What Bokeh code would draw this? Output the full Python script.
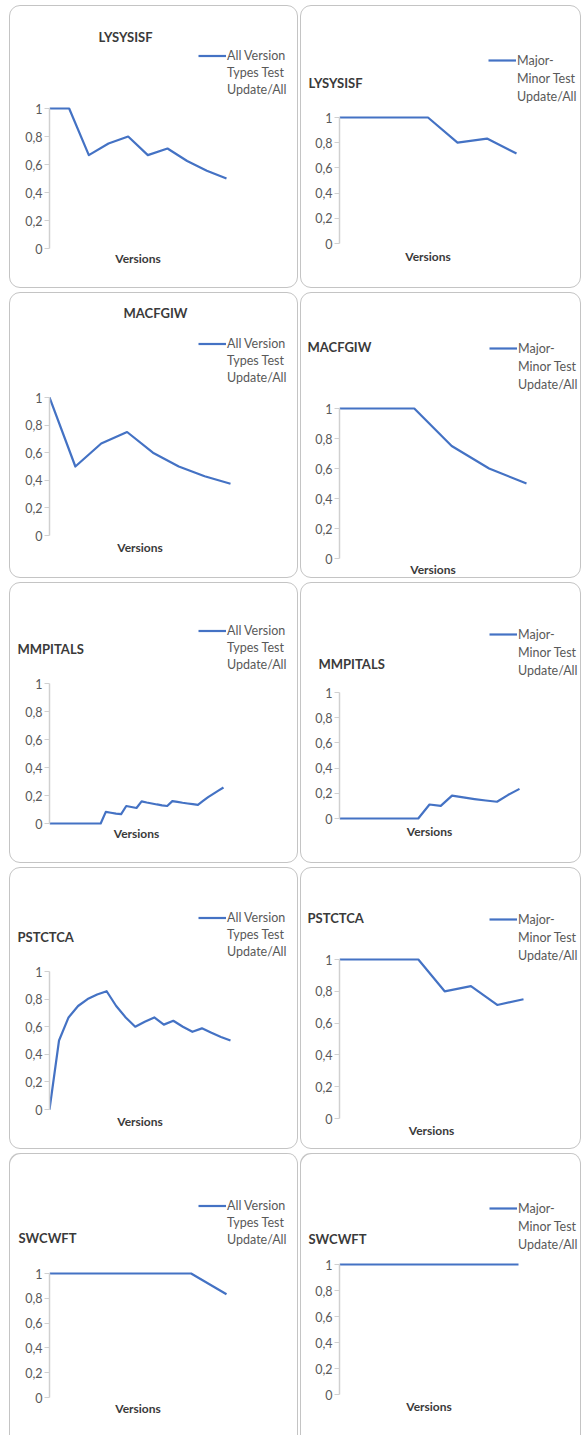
from bokeh.plotting import figure
from bokeh.models import Range1d, FixedTicker, Label, Legend, LegendItem
from bokeh.layouts import column, row
from bokeh.embed import file_html
from bokeh.resources import INLINE

# ---- data -------------------------------------------------------------
projects = ["LYSYSISF", "MACFGIW", "MMPITALS", "PSTCTCA", "SWCWFT"]
series_all = ["All Version", "Types Test", "Update/All"]
series_major = ["Major-", "Minor Test", "Update/All"]
x_title = "Versions"
y_ticks = [0.0, 0.2, 0.4, 0.6, 0.8, 1.0]
y_tick_labels = ["0", "0,2", "0,4", "0,6", "0,8", "1"]

lysysisf_all = [1.0, 1.0, 0.667, 0.75, 0.8, 0.667, 0.714, 0.625, 0.556, 0.5]
lysysisf_major = [1.0, 1.0, 1.0, 1.0, 0.8, 0.833, 0.714]

macfgiw_all = [1.0, 0.5, 0.667, 0.75, 0.6, 0.5, 0.429, 0.375]
macfgiw_major = [1.0, 1.0, 1.0, 0.75, 0.6, 0.5]

mmpitals_all = [0, 0, 0, 0, 0, 0, 0, 0, 0, 0, 0,
                0.083, 0.077, 0.071, 0.067, 0.125, 0.118, 0.111, 0.158,
                0.15, 0.143, 0.136, 0.13, 0.125, 0.16, 0.154, 0.148,
                0.143, 0.138, 0.133, 0.161, 0.188, 0.212, 0.235, 0.257]
mmpitals_major = [0, 0, 0, 0, 0, 0, 0, 0, 0.111, 0.1, 0.182, 0.167,
                  0.154, 0.143, 0.133, 0.188, 0.235]

pstctca_all = [0, 0.5, 0.667, 0.75, 0.8, 0.833, 0.857, 0.75, 0.667, 0.6,
               0.636, 0.667, 0.615, 0.643, 0.6, 0.563, 0.588, 0.556,
               0.526, 0.5]
pstctca_major = [1.0, 1.0, 1.0, 1.0, 0.8, 0.833, 0.714, 0.75]

swcwft_all = [1.0, 1.0, 1.0, 1.0, 1.0, 0.833]
swcwft_major = [1.0, 1.0, 1.0, 1.0, 1.0]

# ---- styling ----------------------------------------------------------
LINE_COLOR = "#4472C4"
AXIS_COLOR = "#d0d0d0"
LABEL_COLOR = "#595959"
TITLE_COLOR = "#3a3a3a"
CARD_BORDER = "#c4c4c4"
FONT = "Lato"
FRAME_TOP = 24

CARD_STYLE = {"outline": "1px solid " + CARD_BORDER,
              "outline-offset": "-1px", "border-radius": "11px"}
# the last row runs off the bottom of the page: no bottom edge
OPEN_CARD_STYLE = {"box-shadow": "inset 1px 1px 0 %s, inset -1px 0 0 %s"
                   % (CARD_BORDER, CARD_BORDER),
                   "border-radius": "11px 11px 0 0"}

# per-card layout in pixels:
# width, height, axis x, last-version x, row of y=1, row of y=0,
# title x, title y, title align, legend x, legend first-line y,
# axis-title y, legend line spacing
layout_left = [
    (289, 283, 40, 217, 103, 243, 116, 31, "center", 189, 50, 253, 17),
    (289, 286, 40, 221, 105, 243, 146, 20, "center", 189, 51, 255, 17),
    (289, 281, 40, 214, 101, 241, 8, 66, "left", 189, 48, 251, 17),
    (289, 282, 40, 221, 104, 242, 8, 69, "left", 189, 50, 254, 17),
    (289, 282, 40, 217, 120, 244, 9, 84, "left", 189, 52, 255, 17),
]
layout_right = [
    (281, 283, 39, 216, 112, 238, 8, 77, "left", 188, 55, 251, 18),
    (281, 286, 39, 226, 116, 266, 7, 54, "left", 189, 56, 277, 18),
    (281, 281, 39, 219, 110, 236, 18, 81, "left", 189, 52, 249, 18),
    (281, 282, 39, 223, 92, 251, 7, 50, "left", 189, 52, 263, 18),
    (281, 282, 39, 218, 111, 241, 8, 85, "left", 189, 55, 253, 18),
]

series_left = [lysysisf_all, macfgiw_all, mmpitals_all, pstctca_all, swcwft_all]
series_right = [lysysisf_major, macfgiw_major, mmpitals_major, pstctca_major,
                swcwft_major]


def card(title, legend_lines, values, g, style):
    (w, h, fl, fr, y1, y0, tx, ty, talign, lx, ly, vy, lh) = g
    n = len(values)
    versions = list(range(1, n + 1))
    fb = y0 + 3
    span = float(y0 - y1)
    x_per_px = (n - 1) / float(fr - fl)

    def xd(px):
        return 1 + (px - fl) * x_per_px

    def yd(py):
        return (y0 - py) / span

    p = figure(
        width=w, height=h,
        x_range=Range1d(1, xd(w)),
        y_range=Range1d(yd(fb), yd(FRAME_TOP)),
        x_axis_location=None,
        output_backend="svg", toolbar_location=None,
        min_border_left=fl, min_border_right=0,
        min_border_top=FRAME_TOP, min_border_bottom=h - fb,
        outline_line_color=None,
        background_fill_color=None, border_fill_color=None,
        styles=style,
    )
    # every card keeps its own plot area, independent of its neighbours
    p.frame_align = False
    p.xgrid.visible = False
    p.ygrid.visible = False

    r = p.line(versions, values, line_color=LINE_COLOR, line_width=2.2,
               line_join="round")
    # empty companion renderer for the wrapped legend lines
    ghost = p.line([], [], line_color=LINE_COLOR, line_alpha=0)

    ya = p.yaxis[0]
    ya.ticker = FixedTicker(ticks=y_ticks)
    ya.major_label_overrides = dict(zip(y_ticks, y_tick_labels))
    ya.bounds = (0, 1)
    ya.axis_line_color = AXIS_COLOR
    ya.axis_line_width = 1.5
    ya.major_tick_line_color = AXIS_COLOR
    ya.major_tick_out = 5
    ya.major_tick_in = 0
    ya.minor_tick_line_color = None
    ya.major_label_standoff = 2
    ya.major_label_text_font = FONT
    ya.major_label_text_font_size = "12.5px"
    ya.major_label_text_color = LABEL_COLOR

    p.add_layout(Label(x=xd(tx), y=yd(ty), text=title,
                       text_align=talign, text_baseline="middle",
                       text_font=FONT, text_font_style="bold",
                       text_font_size="13px", text_color=TITLE_COLOR),
                 "above")
    p.add_layout(Label(x=(1 + n) / 2.0, y=yd(vy), text=x_title,
                       text_align="center", text_baseline="middle",
                       text_font=FONT, text_font_style="bold",
                       text_font_size="12px", text_color=TITLE_COLOR),
                 "below")

    items = [LegendItem(label=legend_lines[0], renderers=[r])]
    items += [LegendItem(label=t, renderers=[ghost]) for t in legend_lines[1:]]
    legend = Legend(
        items=items,
        location=(lx - fl, fb - (ly - lh / 2.0) - 3 * lh),
        padding=0, margin=0, spacing=0,
        glyph_width=28, glyph_height=lh, label_height=lh, label_standoff=1,
        border_line_color=None, background_fill_alpha=0,
        label_text_font=FONT, label_text_font_size="12.5px",
        label_text_color=LABEL_COLOR,
    )
    p.add_layout(legend)
    return p


rows = []
for i, name in enumerate(projects):
    style = OPEN_CARD_STYLE if i == len(projects) - 1 else CARD_STYLE
    left = card(name, series_all, series_left[i], layout_left[i], style)
    right = card(name, series_major, series_right[i], layout_right[i], style)
    rows.append(row(left, right, spacing=2))

page = column(*rows, spacing=4, margin=(5, 0, 0, 9))

open("out.html", "w").write(file_html(page, INLINE))
